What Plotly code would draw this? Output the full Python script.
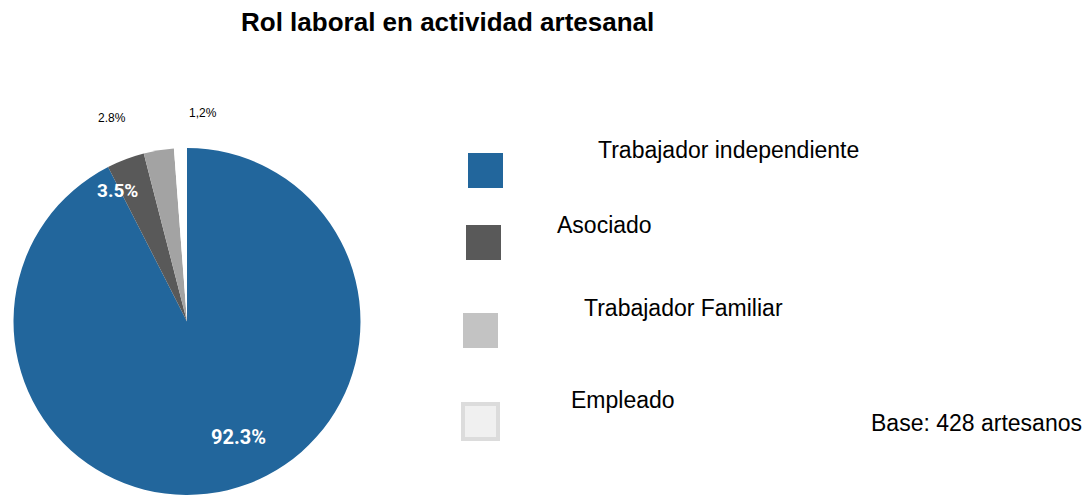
import plotly.graph_objects as go

# datos
categorias = ["Trabajador independiente", "Asociado", "Trabajador Familiar", "Empleado"]
porcentajes = [92.3, 3.5, 2.8, 1.2]
etiquetas = ["92.3%", "3.5%", "2.8%", "1,2%"]
colores = ["#22669c", "#595959", "#a3a3a3", "#ffffff"]
colores_leyenda = ["#22669c", "#595959", "#c3c3c3", "#f0f0f0"]

W, H = 1092, 495


def fx(x):
    return x / W


def fy(y):
    return 1 - y / H


fig = go.Figure(go.Pie(
    labels=categorias,
    values=porcentajes,
    sort=False,
    direction="clockwise",
    rotation=0,
    marker=dict(colors=colores, line=dict(color="white", width=0)),
    textinfo="none",
    hoverinfo="label+percent",
    domain=dict(x=[fx(11), fx(363)], y=[0, fy(148)]),
    showlegend=False,
))

anotaciones = [
    dict(x=fx(447), y=fy(22), text="<b>Rol laboral en actividad artesanal</b>",
         font=dict(size=26, color="black", family="Liberation Sans")),
    dict(x=fx(976), y=fy(423), text="Base: 428 artesanos",
         font=dict(size=23, color="black", family="Liberation Sans")),
]

# etiquetas del pastel
pos_etq = [(238, 437), (117, 190), (112, 118), (203, 113)]
estilo_etq = [
    dict(size=20, color="white", family="Roboto", weight="bold"),
    dict(size=19, color="white", family="Roboto", weight="bold"),
    dict(size=12, color="black", family="Liberation Sans"),
    dict(size=12, color="black", family="Liberation Sans"),
]
for (x, y), t, f in zip(pos_etq, etiquetas, estilo_etq):
    anotaciones.append(dict(x=fx(x), y=fy(y), text=t, font=f))

# leyenda manual
pos_texto = [(596, 150), (555, 225), (582, 308), (569, 400)]
pos_cuadro = [(468, 153, 503, 188), (466, 225, 501, 260), (463, 313, 498, 348), (463, 404, 498, 439)]
formas = []
for cat, (x, y), (x0, y0, x1, y1), c in zip(categorias, pos_texto, pos_cuadro, colores_leyenda):
    anotaciones.append(dict(x=fx(x), y=fy(y), text=cat, xanchor="left",
                            font=dict(size=23, color="black", family="Liberation Sans")))
    borde = "#dcdcdc" if c == "#f0f0f0" else c
    ancho = 4 if c == "#f0f0f0" else 0
    formas.append(dict(type="rect", xref="paper", yref="paper",
                       x0=fx(x0), x1=fx(x1), y0=fy(y1), y1=fy(y0),
                       fillcolor=c, line=dict(color=borde, width=ancho)))

for a in anotaciones:
    a.update(xref="paper", yref="paper", showarrow=False)
    a.setdefault("xanchor", "center")
    a.setdefault("yanchor", "middle")

fig.update_layout(
    width=W,
    height=H,
    margin=dict(l=0, r=0, t=0, b=0),
    paper_bgcolor="white",
    plot_bgcolor="white",
    annotations=anotaciones,
    shapes=formas,
)

# sin margen del body para que coincida pixel a pixel
fig.write_html("out.html", config={"displayModeBar": False},
               post_script="document.body.style.margin='0';")
